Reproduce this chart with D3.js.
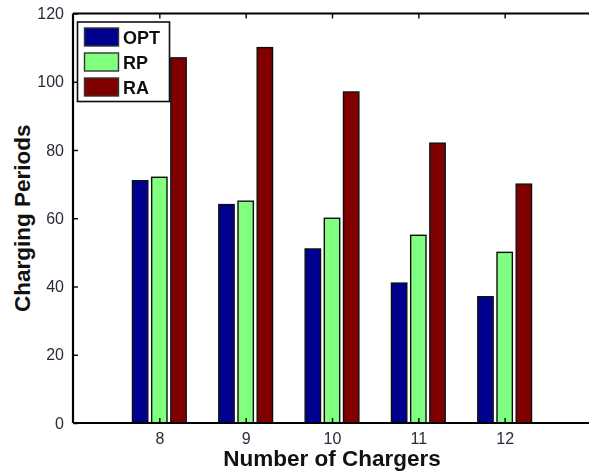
<!DOCTYPE html>
<html>
<head>
<meta charset="utf-8">
<script src="https://cdn.jsdelivr.net/npm/d3@7"></script>
<style>
  html, body { margin: 0; padding: 0; background: #fff; }
  svg { display: block; }
  text { font-family: "Liberation Sans", Arial, Helvetica, sans-serif; }
</style>
</head>
<body>
<svg id="chart" width="589" height="474"></svg>
<script>
// Number of chargers on the x axis
const chargers = [8, 9, 10, 11, 12];
// Charging periods per scheme
const seriesNames = ["OPT", "RP", "RA"];
const optValues = [71, 64, 51, 41, 37];
const rpValues  = [72, 65, 60, 55, 50];
const raValues  = [107, 110, 97, 82, 70];
const seriesColors = ["#00008f", "#80ff80", "#800000"];
const yTicks = [0, 20, 40, 60, 80, 100, 120];

const seriesValues = [optValues, rpValues, raValues];

const svg = d3.select("#chart");
const plotLeft = 73, plotRight = 591, plotTop = 13.5, plotBottom = 423;

const x = d3.scaleLinear().domain([7, 13]).range([plotLeft, plotRight]);
const y = d3.scaleLinear().domain([0, 120]).range([plotBottom, plotTop]);
// position of each series inside a group, in x-axis units
const inner = d3.scaleBand().domain(seriesNames).range([-1/3, 1/3]).paddingInner(0.2).paddingOuter(0.1);
const unit = x(1) - x(0);

const soft = svg.append("defs").append("filter").attr("id", "soft")
  .attr("x", "-10%").attr("y", "-10%").attr("width", "120%").attr("height", "120%");
soft.append("feGaussianBlur").attr("stdDeviation", 0.45);

const rows = chargers.map((c, i) => seriesNames.map((s, j) => ({ c, s, j, v: seriesValues[j][i] })));

// bars
const plot = svg.append("g").attr("filter", "url(#soft)");
plot.selectAll("rect.bar")
  .data(rows.flat())
  .join("rect")
  .attr("class", "bar")
  .attr("x", d => x(d.c + inner(d.s)))
  .attr("width", inner.bandwidth() * unit)
  .attr("y", d => y(d.v))
  .attr("height", d => y(0) - y(d.v))
  .attr("fill", d => seriesColors[d.j])
  .attr("stroke", "#111")
  .attr("stroke-width", 1.4);

// axes: box with inward ticks
const axisG = svg.append("g").attr("filter", "url(#soft)");
const yAxis = d3.axisLeft(y).tickValues(yTicks).tickSize(-5).tickPadding(9).tickFormat(d3.format("d"));
const xAxis = d3.axisBottom(x).tickValues(chargers).tickSize(-5).tickPadding(10).tickFormat(d3.format("d"));
const xTop = d3.axisTop(x).tickValues(chargers).tickSize(-5).tickFormat("");

const gy = axisG.append("g").attr("transform", `translate(${plotLeft},0)`).call(yAxis);
const gx = axisG.append("g").attr("transform", `translate(0,${plotBottom})`).call(xAxis);
const gt = axisG.append("g").attr("transform", `translate(0,${plotTop})`).call(xTop);
[gy, gx, gt].forEach(g => {
  g.select(".domain").attr("stroke", "#000").attr("stroke-width", 2.2);
  g.selectAll(".tick line").attr("stroke", "#000").attr("stroke-width", 1.4);
  g.selectAll(".tick text").attr("fill", "#2a2a3a").style("font-size", "16px");
});
gy.select(".domain").attr("d", `M0,${plotBottom}V${plotTop}`);
gx.select(".domain").attr("d", `M${plotLeft},0H${plotRight}`);
gt.select(".domain").attr("d", `M${plotLeft},0H${plotRight}`);

// axis titles
svg.append("text")
  .attr("x", x(10)).attr("y", 466)
  .attr("text-anchor", "middle")
  .style("font-size", "22.5px").style("font-weight", "bold")
  .attr("fill", "#111")
  .text("Number of Chargers");

svg.append("text")
  .attr("transform", `translate(30,${(plotTop + plotBottom) / 2}) rotate(-90)`)
  .attr("text-anchor", "middle")
  .style("font-size", "22.5px").style("font-weight", "bold")
  .attr("fill", "#111")
  .text("Charging Periods");

// legend
const legend = svg.append("g").attr("filter", "url(#soft)");
legend.append("rect")
  .attr("x", 77.5).attr("y", 22).attr("width", 92).attr("height", 79.5)
  .attr("fill", "#fff").attr("stroke", "#111").attr("stroke-width", 1.6);
const items = legend.selectAll("g.item").data(seriesNames).join("g")
  .attr("class", "item")
  .attr("transform", (d, i) => `translate(0,${28 + i * 25})`);
items.append("rect")
  .attr("x", 84.5).attr("y", 0).attr("width", 34).attr("height", 18)
  .attr("fill", (d, i) => seriesColors[i])
  .attr("stroke", "#333").attr("stroke-width", 1.4);
items.append("text")
  .attr("x", 123).attr("y", 16)
  .style("font-size", "18px").style("font-weight", "bold")
  .attr("fill", "#111")
  .text(d => d);
</script>
</body>
</html>
